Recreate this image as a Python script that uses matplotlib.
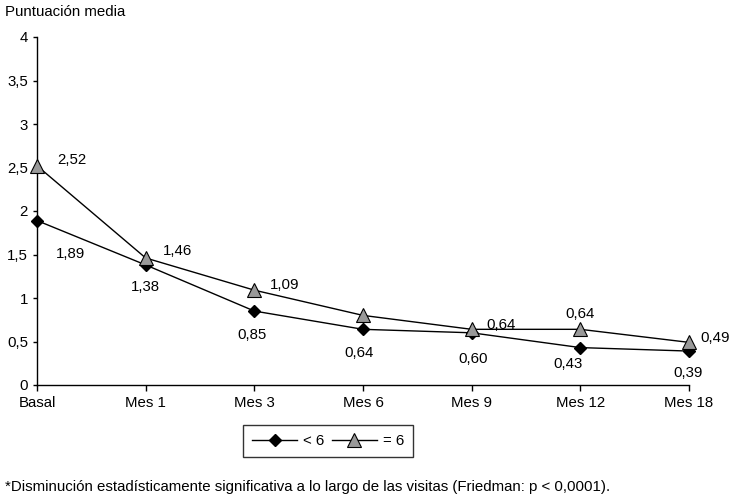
import matplotlib
matplotlib.use("Agg")
import matplotlib.pyplot as plt

plt.rcParams['font.family'] = ['Liberation Sans', 'DejaVu Sans']

categories = ["Basal", "Mes 1", "Mes 3", "Mes 6", "Mes 9", "Mes 12", "Mes 18"]
menor6 = [1.89, 1.38, 0.85, 0.64, 0.60, 0.43, 0.39]
igual6 = [2.52, 1.46, 1.09, 0.80, 0.64, 0.64, 0.49]
menor6_labels = ["1,89", "1,38", "0,85", "0,64", "0,60", "0,43", "0,39"]
igual6_labels = ["2,52", "1,46", "1,09", "", "0,64", "0,64", "0,49"]
yticks = [0, 0.5, 1, 1.5, 2, 2.5, 3, 3.5, 4]
ytick_labels = ["0", "0,5", "1", "1,5", "2", "2,5", "3", "3,5", "4"]

FS = 10.8

# label offsets in points (dx, dy)
menor6_off = [(24, -24), (0, -16), (-2, -17), (-3, -17), (1, -19), (-9, -12), (-1, -16)]
igual6_off = [(25, 4), (23, 5), (22, 4), (0, 0), (21, 3), (0, 11), (19, 3)]

fig = plt.figure(figsize=(7.30, 4.99), dpi=100)
ax = fig.add_axes([37/730, 1-385/499, (689-37)/730, (385-37)/499])

x = list(range(len(categories)))
l1, = ax.plot(x, menor6, color='black', lw=1.0, marker='D', ms=6.2,
              mfc='black', mec='black', label='< 6', clip_on=False, zorder=3)
l2, = ax.plot(x, igual6, color='black', lw=1.0, marker='^', ms=10.5,
              mfc='#999999', mec='black', mew=0.8, label='= 6', clip_on=False, zorder=4)

for i in x:
    dx, dy = menor6_off[i]
    ax.annotate(menor6_labels[i], (i, menor6[i]), xytext=(dx, dy),
                textcoords='offset points', ha='center', va='center', fontsize=FS)
    if igual6_labels[i]:
        dx, dy = igual6_off[i]
        ax.annotate(igual6_labels[i], (i, igual6[i]), xytext=(dx, dy),
                    textcoords='offset points', ha='center', va='center', fontsize=FS)

ax.set_xlim(0, len(categories) - 1)
ax.set_ylim(0, 4)
ax.set_xticks(x)
ax.set_xticklabels(categories, fontsize=FS)
ax.set_yticks(yticks)
ax.set_yticklabels(ytick_labels, fontsize=FS)
ax.spines['top'].set_visible(False)
ax.spines['right'].set_visible(False)
ax.spines['left'].set_linewidth(1.0)
ax.spines['bottom'].set_linewidth(1.0)
ax.tick_params(axis='y', direction='out', length=3, width=1.0, pad=3.5)
ax.tick_params(axis='x', direction='out', length=4, width=1.0, pad=4)

leg = fig.legend(handles=[l1, l2], loc='center', bbox_to_anchor=(328/730, 1-441/499),
                 ncol=2, frameon=True, fancybox=False, edgecolor='black',
                 fontsize=FS, handlelength=3.0, columnspacing=0.5, handletextpad=0.4,
                 borderpad=0.6)
leg.get_frame().set_linewidth(1.0)

fig.text(5/730, 1-12/499, "Puntuación media", fontsize=FS, ha='left', va='center')
fig.text(5/730, 1-487/499,
         "*Disminución estadísticamente significativa a lo largo de las visitas (Friedman: p < 0,0001).",
         fontsize=FS, ha='left', va='center')

fig.savefig("out.png", dpi=100)
